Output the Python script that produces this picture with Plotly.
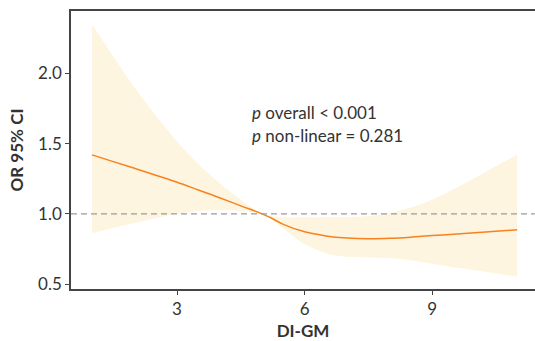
import plotly.graph_objects as go

# DI-GM values
x_vals = [1, 1.5, 2, 2.5, 3, 3.5, 4, 4.5, 5, 5.25, 5.5, 6, 6.5, 7, 7.5, 8, 8.5, 9, 9.5, 10, 10.5, 11]
# Odds ratio (spline estimate)
or_vals = [1.42, 1.372, 1.324, 1.275, 1.225, 1.17, 1.115, 1.057, 1.0, 0.965, 0.925, 0.872, 0.843, 0.828, 0.823, 0.826, 0.834, 0.845, 0.855, 0.866, 0.876, 0.886]
# 95% CI bounds
upper_vals = [2.35, 2.12, 1.90, 1.70, 1.515, 1.355, 1.22, 1.10, 1.0, 0.982, 0.976, 0.975, 0.975, 0.976, 0.985, 1.005, 1.045, 1.10, 1.175, 1.255, 1.34, 1.42]
lower_vals = [0.863, 0.90, 0.935, 0.97, 1.0, 1.02, 1.027, 1.02, 1.0, 0.955, 0.895, 0.785, 0.72, 0.695, 0.69, 0.685, 0.67, 0.645, 0.62, 0.598, 0.576, 0.554]

x_ticks = [3, 6, 9]
y_ticks = [0.5, 1.0, 1.5, 2.0]
y_tick_text = ["0.5", "1.0", "1.5", "2.0"]

FONT = "Lato"
TXT = "#333333"
FS = 17

fig = go.Figure()
fig.add_trace(go.Scatter(
    x=x_vals, y=lower_vals, mode="lines",
    line=dict(width=0, shape="spline"), hoverinfo="skip", showlegend=False,
))
fig.add_trace(go.Scatter(
    x=x_vals, y=upper_vals, mode="lines", fill="tonexty", fillcolor="#FDF5E0",
    line=dict(width=0, shape="spline"), hoverinfo="skip", showlegend=False,
))
fig.add_trace(go.Scatter(
    x=x_vals, y=or_vals, mode="lines",
    line=dict(color="#F7821F", width=1.5, shape="spline"), showlegend=False,
))

fig.add_shape(type="line", xref="paper", x0=0, x1=1, yref="y", y0=1.0, y1=1.0,
              line=dict(color="#9A9A9A", width=1.3, dash="6px,4px"))

fig.add_annotation(x=4.72, y=1.718, xref="x", yref="y", xanchor="left", yanchor="middle",
                   text="<i>p</i> overall < 0.001", showarrow=False,
                   font=dict(family=FONT, size=FS, color=TXT))
fig.add_annotation(x=4.72, y=1.56, xref="x", yref="y", xanchor="left", yanchor="middle",
                   text="<i>p</i> non-linear = 0.281", showarrow=False,
                   font=dict(family=FONT, size=FS, color=TXT))

fig.update_layout(
    width=535, height=341,
    margin=dict(l=71, r=0, t=11, b=52),
    plot_bgcolor="white", paper_bgcolor="white",
    font=dict(family=FONT, size=FS, color=TXT),
    xaxis=dict(
        range=[0.506, 11.42], tickvals=x_ticks, ticks="outside", ticklen=4,
        tickcolor="#444", showline=True, linecolor="#444", linewidth=1.5, mirror=True,
        showgrid=False, zeroline=False,
        tickfont=dict(family=FONT, size=FS, color=TXT),
        title=dict(text="<b>DI-GM</b>", font=dict(family=FONT, size=FS, color=TXT), standoff=8),
    ),
    yaxis=dict(
        range=[0.465, 2.444], tickvals=y_ticks, ticktext=y_tick_text, ticks="outside", ticklen=4,
        tickcolor="#444", showline=True, linecolor="#444", linewidth=1.5,
        showgrid=False, zeroline=False,
        tickfont=dict(family=FONT, size=FS, color=TXT),
        title=dict(text="<b>OR 95% CI</b>", font=dict(family=FONT, size=FS, color=TXT), standoff=10),
    ),
)

fig.write_html("out.html", config={"displayModeBar": False},
               post_script="document.body.style.margin='0';")
